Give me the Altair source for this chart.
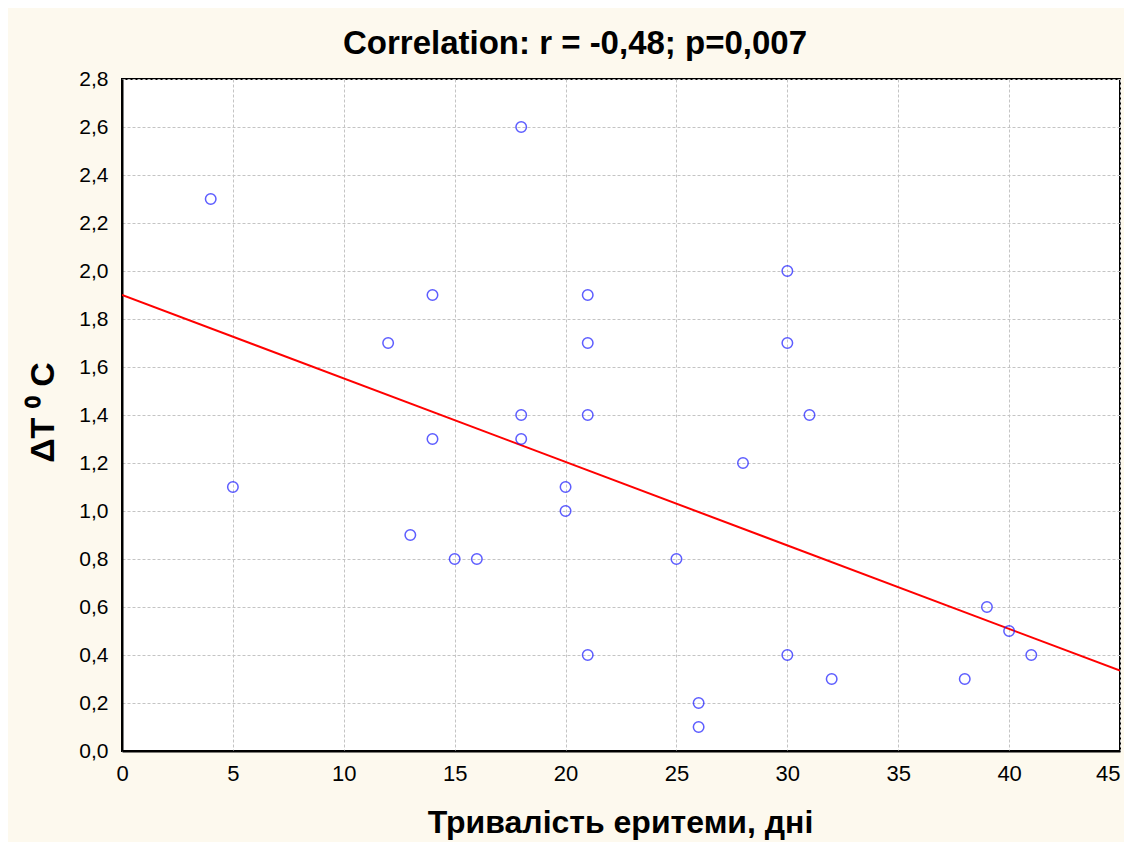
import altair as alt
import pandas as pd

# Data
days = [4, 5, 12, 13, 14, 14, 15, 16, 18, 18, 18, 20, 20, 21, 21, 21, 21,
        25, 26, 26, 28, 30, 30, 30, 31, 32, 38, 39, 40, 41]
delta_t = [2.3, 1.1, 1.7, 0.9, 1.9, 1.3, 0.8, 0.8, 2.6, 1.4, 1.3, 1.1, 1.0,
           1.9, 1.7, 1.4, 0.4, 0.8, 0.2, 0.1, 1.2, 2.0, 1.7, 0.4, 1.4, 0.3,
           0.3, 0.6, 0.5, 0.4]
fit_x = [0, 45]
fit_y = [1.9, 0.335]
x_ticks = [0, 5, 10, 15, 20, 25, 30, 35, 40, 45]
y_ticks = [0.0, 0.2, 0.4, 0.6, 0.8, 1.0, 1.2, 1.4, 1.6, 1.8, 2.0, 2.2, 2.4, 2.6, 2.8]

pts = pd.DataFrame({"x": days, "y": delta_t})
fit = pd.DataFrame({"x": fit_x, "y": fit_y})

W, H = 998, 672

x_enc = alt.X(
    "x:Q",
    scale=alt.Scale(domain=[0, 45], nice=False, zero=False),
    axis=alt.Axis(
        values=x_ticks, title="Тривалість еритеми, дні",
        labelFontSize=22, labelFont="Liberation Sans", labelColor="black",
        labelPadding=12, ticks=False, domainColor="black", domainWidth=2,
        labelAlign={"expr": "datum.value == 45 ? 'right' : 'center'"},
        grid=True, gridColor="#c4c4c4", gridDash=[3, 2], gridWidth=1,
        titleFont="Liberation Sans", titleFontSize=32, titleFontWeight="bold",
        titleColor="black", titleX=W / 2 - 1, titleY=81,
        titleBaseline="alphabetic", titleAlign="center", labelFlush=False,
    ),
)
y_enc = alt.Y(
    "y:Q",
    scale=alt.Scale(domain=[0, 2.8], nice=False, zero=False),
    axis=alt.Axis(
        values=y_ticks, title="ΔT ⁰ C",
        labelExpr="replace(format(datum.value, '.1f'), '.', ',')",
        labelFontSize=21, labelFont="Liberation Sans", labelColor="black",
        labelPadding=14, ticks=False, domainColor="black", domainWidth=2,
        grid=True, gridColor="#c4c4c4", gridDash=[3, 2], gridWidth=1,
        titleFont="Liberation Sans", titleFontSize=34, titleFontWeight="bold",
        titleColor="black", titleAngle=-90, titleX=-69, titleY=H / 2 - 3,
        titleBaseline="alphabetic", titleAlign="center", labelFlush=False,
    ),
)

points = alt.Chart(pts).mark_point(
    shape="circle", filled=False, size=110, strokeWidth=1.5, color="#1a1aff"
).encode(x=x_enc, y=y_enc)

line = alt.Chart(fit).mark_line(color="#ff0000", strokeWidth=2, clip=True).encode(
    x=alt.X("x:Q"), y=alt.Y("y:Q")
)

chart = (
    alt.layer(line, points)
    .properties(
        width=W,
        height=H,
        title=alt.TitleParams(
            "Correlation: r = -0,48; p=0,007",
            font="Liberation Sans",
            fontSize=33, fontWeight="bold", color="black",
            anchor="middle", dx=-46, offset=7,
        ),
        background="#fdf9ee",
        padding={"left": 114, "top": 71, "right": 4, "bottom": 91},
        autosize=alt.AutoSizeParams(type="none"),
    )
    .configure_view(stroke="black", strokeWidth=2, fill="white")
)

chart.save("out.html", embed_options={"renderer": "svg", "actions": False})
